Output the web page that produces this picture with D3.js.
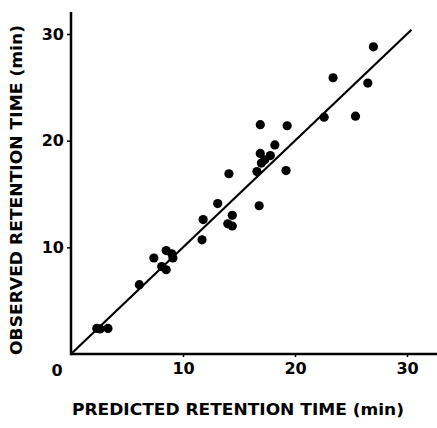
<!DOCTYPE html>
<html>
<head>
<meta charset="utf-8">
<script src="https://cdn.jsdelivr.net/npm/d3@7"></script>
<style>
  html, body { margin: 0; padding: 0; background: #fff; }
  svg { display: block; }
  text { font-family: "DejaVu Sans", "Liberation Sans", Arial, sans-serif; font-weight: bold; fill: #000; }
</style>
</head>
<body>
<svg id="chart" width="437" height="428"></svg>
<script>
// Data
const predicted = [27.0, 23.4, 26.5, 22.6, 25.4, 16.9, 19.3, 18.2, 16.9, 17.8, 17.3, 17.0, 16.6, 19.2,
                   14.1, 13.1, 16.8, 11.8, 14.4, 14.0, 14.4, 11.7, 8.5, 9.0, 9.1, 7.4, 8.1, 8.5, 6.1,
                   2.3, 2.6, 3.3];
const observed  = [28.8, 25.9, 25.4, 22.2, 22.3, 21.5, 21.4, 19.6, 18.8, 18.6, 18.2, 17.9, 17.1, 17.2,
                   16.9, 14.1, 13.9, 12.6, 13.0, 12.2, 12.0, 10.7, 9.7, 9.4, 9.0, 9.0, 8.2, 7.9, 6.5,
                   2.4, 2.35, 2.4];
const xTickValues = [10, 20, 30];
const yTickValues = [10, 20, 30];
const originLabel = "0";
const lineEnds = [0, 30.4];   // identity line y = x
const xTitle = "PREDICTED RETENTION TIME (min)";
const yTitle = "OBSERVED RETENTION TIME (min)";

const svg = d3.select("#chart");
const x = d3.scaleLinear().domain([0, 30]).range([71, 407]);
const y = d3.scaleLinear().domain([0, 30]).range([354, 34]);

// Axis lines
svg.append("line").attr("x1", x(0)).attr("x2", 437).attr("y1", y(0)).attr("y2", y(0))
  .attr("stroke", "#000").attr("stroke-width", 2.5);
svg.append("line").attr("x1", x(0)).attr("x2", x(0)).attr("y1", y(0) + 1.2).attr("y2", 12)
  .attr("stroke", "#000").attr("stroke-width", 2.5);

// Axes (ticks + labels)
const xAxis = d3.axisBottom(x).tickValues(xTickValues).tickSize(3).tickPadding(6).tickFormat(d3.format("d"));
const gx = svg.append("g").attr("transform", `translate(0,${y(0)})`).call(xAxis);
gx.select(".domain").remove();
gx.selectAll(".tick line").attr("stroke", "#000").attr("stroke-width", 1.5);
gx.selectAll(".tick text").style("font-size", "16px").style("font-family", null).style("font-weight", null).attr("dy", "0.71em");

const yAxis = d3.axisLeft(y).tickValues(yTickValues).tickSize(4).tickPadding(3).tickFormat(d3.format("d"));
const gy = svg.append("g").attr("transform", `translate(${x(0)},0)`).call(yAxis);
gy.select(".domain").remove();
gy.selectAll(".tick line").attr("stroke", "#000").attr("stroke-width", 1.5);
gy.selectAll(".tick text").style("font-size", "16px");
svg.selectAll("g").attr("font-family", null).attr("font-size", null);

svg.append("text").attr("x", x(0) - 14).attr("y", y(0) + 22)
  .attr("text-anchor", "middle").style("font-size", "16px").text(originLabel);

// Identity line
svg.append("line")
  .attr("x1", x(lineEnds[0])).attr("y1", y(lineEnds[0]))
  .attr("x2", x(lineEnds[1])).attr("y2", y(lineEnds[1]))
  .attr("stroke", "#000").attr("stroke-width", 2.2);

// Points
svg.append("g").selectAll("circle")
  .data(predicted.map((p, i) => [p, observed[i]]))
  .join("circle")
  .attr("cx", d => x(d[0])).attr("cy", d => y(d[1])).attr("r", 4.6).attr("fill", "#000");

// Titles
svg.append("text").attr("x", 238).attr("y", 415).attr("text-anchor", "middle")
  .style("font-size", "16px").attr("textLength", 332).attr("lengthAdjust", "spacingAndGlyphs")
  .text(xTitle);
svg.append("text").attr("transform", "translate(22,190) rotate(-90)").attr("text-anchor", "middle")
  .style("font-size", "16px").attr("textLength", 330).attr("lengthAdjust", "spacingAndGlyphs")
  .text(yTitle);
</script>
</body>
</html>
